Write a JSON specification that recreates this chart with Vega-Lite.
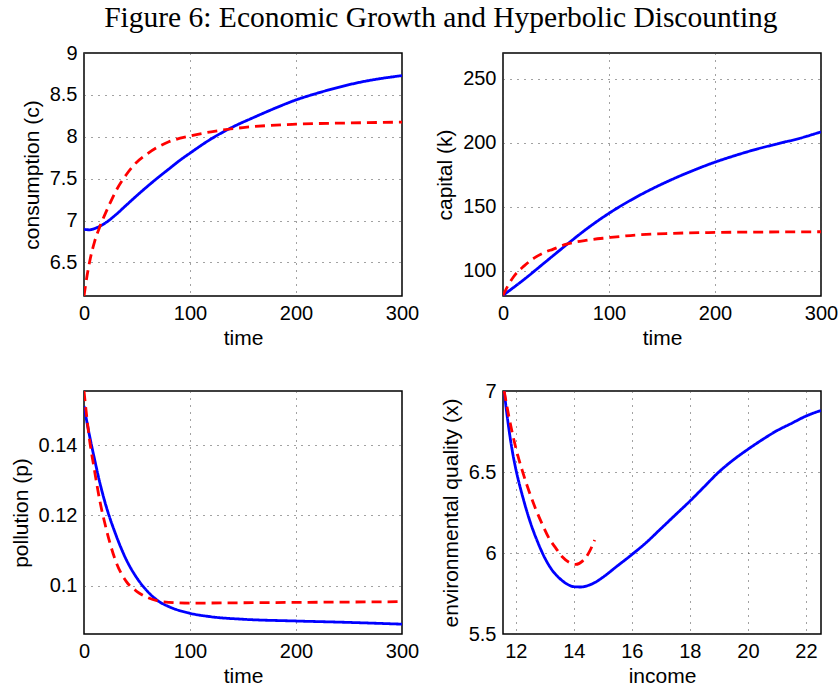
{
  "$schema": "https://vega.github.io/schema/vega-lite/v6.json",
  "background": "white",
  "padding": {"left": 9, "top": 2, "right": 16, "bottom": 4},
  "title": {"text": "Figure 6: Economic Growth and Hyperbolic Discounting", "font": "Liberation Serif", "fontSize": 29.5, "fontWeight": "normal", "color": "#000", "anchor": "middle", "offset": 9, "dx": 17},
  "datasets": {
    "c": [
      {"t": 0, "v": 6.897, "s": "A"}, {"t": 5, "v": 6.89, "s": "A"}, {"t": 10, "v": 6.905, "s": "A"}, {"t": 20, "v": 6.97, "s": "A"}, {"t": 30, "v": 7.07, "s": "A"}, {"t": 40, "v": 7.185, "s": "A"}, {"t": 50, "v": 7.3, "s": "A"}, {"t": 60, "v": 7.41, "s": "A"}, {"t": 70, "v": 7.515, "s": "A"}, {"t": 80, "v": 7.615, "s": "A"}, {"t": 90, "v": 7.715, "s": "A"}, {"t": 100, "v": 7.805, "s": "A"}, {"t": 120, "v": 7.975, "s": "A"}, {"t": 140, "v": 8.115, "s": "A"}, {"t": 160, "v": 8.23, "s": "A"}, {"t": 180, "v": 8.34, "s": "A"}, {"t": 200, "v": 8.44, "s": "A"}, {"t": 220, "v": 8.52, "s": "A"}, {"t": 240, "v": 8.59, "s": "A"}, {"t": 260, "v": 8.65, "s": "A"}, {"t": 280, "v": 8.695, "s": "A"}, {"t": 300, "v": 8.73, "s": "A"},
      {"t": 0, "v": 6.1, "s": "B"}, {"t": 3, "v": 6.35, "s": "B"}, {"t": 6, "v": 6.55, "s": "B"}, {"t": 10, "v": 6.75, "s": "B"}, {"t": 15, "v": 6.93, "s": "B"}, {"t": 20, "v": 7.08, "s": "B"}, {"t": 25, "v": 7.22, "s": "B"}, {"t": 30, "v": 7.35, "s": "B"}, {"t": 40, "v": 7.55, "s": "B"}, {"t": 50, "v": 7.7, "s": "B"}, {"t": 60, "v": 7.8, "s": "B"}, {"t": 70, "v": 7.88, "s": "B"}, {"t": 80, "v": 7.94, "s": "B"}, {"t": 100, "v": 8.01, "s": "B"}, {"t": 120, "v": 8.06, "s": "B"}, {"t": 150, "v": 8.11, "s": "B"}, {"t": 200, "v": 8.15, "s": "B"}, {"t": 250, "v": 8.165, "s": "B"}, {"t": 300, "v": 8.175, "s": "B"}
    ],
    "k": [
      {"t": 0, "v": 81, "s": "A"}, {"t": 20, "v": 93.5, "s": "A"}, {"t": 40, "v": 107, "s": "A"}, {"t": 60, "v": 120.5, "s": "A"}, {"t": 80, "v": 133.5, "s": "A"}, {"t": 100, "v": 145, "s": "A"}, {"t": 120, "v": 155, "s": "A"}, {"t": 140, "v": 163.8, "s": "A"}, {"t": 160, "v": 171.6, "s": "A"}, {"t": 180, "v": 178.6, "s": "A"}, {"t": 200, "v": 184.9, "s": "A"}, {"t": 220, "v": 190.3, "s": "A"}, {"t": 240, "v": 195.2, "s": "A"}, {"t": 260, "v": 199.4, "s": "A"}, {"t": 280, "v": 203.5, "s": "A"}, {"t": 300, "v": 208.5, "s": "A"},
      {"t": 0, "v": 81, "s": "B"}, {"t": 5, "v": 89, "s": "B"}, {"t": 10, "v": 95.5, "s": "B"}, {"t": 20, "v": 104, "s": "B"}, {"t": 30, "v": 110.4, "s": "B"}, {"t": 40, "v": 114.8, "s": "B"}, {"t": 47, "v": 116.9, "s": "B"}, {"t": 59, "v": 120.7, "s": "B"}, {"t": 78, "v": 123.9, "s": "B"}, {"t": 100, "v": 126, "s": "B"}, {"t": 125, "v": 128, "s": "B"}, {"t": 157, "v": 129.3, "s": "B"}, {"t": 204, "v": 130.1, "s": "B"}, {"t": 250, "v": 130.4, "s": "B"}, {"t": 300, "v": 130.6, "s": "B"}
    ],
    "p": [
      {"t": 0, "v": 0.1511, "s": "A"}, {"t": 5, "v": 0.143, "s": "A"}, {"t": 10, "v": 0.1359, "s": "A"}, {"t": 15, "v": 0.1292, "s": "A"}, {"t": 20, "v": 0.1235, "s": "A"}, {"t": 30, "v": 0.1145, "s": "A"}, {"t": 40, "v": 0.1073, "s": "A"}, {"t": 50, "v": 0.1021, "s": "A"}, {"t": 60, "v": 0.0983, "s": "A"}, {"t": 70, "v": 0.0956, "s": "A"}, {"t": 80, "v": 0.094, "s": "A"}, {"t": 100, "v": 0.0921, "s": "A"}, {"t": 120, "v": 0.0911, "s": "A"}, {"t": 150, "v": 0.0904, "s": "A"}, {"t": 200, "v": 0.0899, "s": "A"}, {"t": 250, "v": 0.0895, "s": "A"}, {"t": 300, "v": 0.089, "s": "A"},
      {"t": 0, "v": 0.1554, "s": "B"}, {"t": 5, "v": 0.142, "s": "B"}, {"t": 10, "v": 0.1326, "s": "B"}, {"t": 15, "v": 0.124, "s": "B"}, {"t": 20, "v": 0.1173, "s": "B"}, {"t": 30, "v": 0.1069, "s": "B"}, {"t": 40, "v": 0.1011, "s": "B"}, {"t": 50, "v": 0.0983, "s": "B"}, {"t": 60, "v": 0.0966, "s": "B"}, {"t": 70, "v": 0.0956, "s": "B"}, {"t": 80, "v": 0.0952, "s": "B"}, {"t": 100, "v": 0.095, "s": "B"}, {"t": 150, "v": 0.0951, "s": "B"}, {"t": 200, "v": 0.0952, "s": "B"}, {"t": 300, "v": 0.0954, "s": "B"}
    ],
    "x": [
      {"t": 11.6, "v": 7.0, "s": "A"}, {"t": 11.7, "v": 6.85, "s": "A"}, {"t": 11.8, "v": 6.72, "s": "A"}, {"t": 11.9, "v": 6.61, "s": "A"}, {"t": 12.0, "v": 6.52, "s": "A"}, {"t": 12.25, "v": 6.34, "s": "A"}, {"t": 12.5, "v": 6.19, "s": "A"}, {"t": 12.75, "v": 6.07, "s": "A"}, {"t": 13.0, "v": 5.97, "s": "A"}, {"t": 13.25, "v": 5.895, "s": "A"}, {"t": 13.5, "v": 5.845, "s": "A"}, {"t": 13.75, "v": 5.81, "s": "A"}, {"t": 14.0, "v": 5.792, "s": "A"}, {"t": 14.25, "v": 5.79, "s": "A"}, {"t": 14.5, "v": 5.8, "s": "A"}, {"t": 14.75, "v": 5.82, "s": "A"}, {"t": 15.0, "v": 5.85, "s": "A"}, {"t": 15.5, "v": 5.92, "s": "A"}, {"t": 16.0, "v": 5.99, "s": "A"}, {"t": 16.5, "v": 6.065, "s": "A"}, {"t": 17.0, "v": 6.15, "s": "A"}, {"t": 17.5, "v": 6.235, "s": "A"}, {"t": 18.0, "v": 6.32, "s": "A"}, {"t": 18.5, "v": 6.41, "s": "A"}, {"t": 19.0, "v": 6.5, "s": "A"}, {"t": 19.5, "v": 6.575, "s": "A"}, {"t": 20.0, "v": 6.64, "s": "A"}, {"t": 20.5, "v": 6.7, "s": "A"}, {"t": 21.0, "v": 6.755, "s": "A"}, {"t": 21.5, "v": 6.8, "s": "A"}, {"t": 22.0, "v": 6.845, "s": "A"}, {"t": 22.52, "v": 6.88, "s": "A"},
      {"t": 11.6, "v": 7.0, "s": "B"}, {"t": 11.77, "v": 6.835, "s": "B"}, {"t": 12.0, "v": 6.65, "s": "B"}, {"t": 12.23, "v": 6.505, "s": "B"}, {"t": 12.46, "v": 6.38, "s": "B"}, {"t": 12.69, "v": 6.27, "s": "B"}, {"t": 12.92, "v": 6.175, "s": "B"}, {"t": 13.15, "v": 6.09, "s": "B"}, {"t": 13.38, "v": 6.03, "s": "B"}, {"t": 13.61, "v": 5.975, "s": "B"}, {"t": 13.84, "v": 5.942, "s": "B"}, {"t": 14.07, "v": 5.93, "s": "B"}, {"t": 14.3, "v": 5.95, "s": "B"}, {"t": 14.53, "v": 6.005, "s": "B"}, {"t": 14.72, "v": 6.08, "s": "B"}
    ]
  },
  "columns": 2,
  "spacing": {"row": 95, "column": 101},
  "bounds": "flush",
  "concat": [
    {
      "width": 318, "height": 243,
      "data": {"name": "c"},
      "mark": {"type": "line", "strokeWidth": 2.8, "interpolate": "monotone", "clip": true},
      "encoding": {
        "x": {"field": "t", "type": "quantitative", "scale": {"domain": [0, 300], "nice": false}, "axis": {"values": [0, 100, 200, 300], "title": "time", "format": "d"}},
        "y": {"field": "v", "type": "quantitative", "scale": {"domain": [6.1, 9], "nice": false, "zero": false}, "axis": {"values": [6.5, 7, 7.5, 8, 8.5, 9], "title": "consumption (c)", "format": ".1~f"}},
        "color": {"field": "s", "type": "nominal", "scale": {"domain": ["A", "B"], "range": ["#0000ff", "#ff0000"]}, "legend": null},
        "strokeDash": {"field": "s", "type": "nominal", "scale": {"domain": ["A", "B"], "range": [[1, 0], [10, 6]]}, "legend": null},
        "order": {"field": "t", "type": "quantitative"}
      }
    },
    {
      "width": 318, "height": 243,
      "data": {"name": "k"},
      "mark": {"type": "line", "strokeWidth": 2.8, "interpolate": "monotone", "clip": true},
      "encoding": {
        "x": {"field": "t", "type": "quantitative", "scale": {"domain": [0, 300], "nice": false}, "axis": {"values": [0, 100, 200, 300], "title": "time", "format": "d"}},
        "y": {"field": "v", "type": "quantitative", "scale": {"domain": [80.5, 270], "nice": false, "zero": false}, "axis": {"values": [100, 150, 200, 250], "title": "capital (k)", "format": "d"}},
        "color": {"field": "s", "type": "nominal", "scale": {"domain": ["A", "B"], "range": ["#0000ff", "#ff0000"]}, "legend": null},
        "strokeDash": {"field": "s", "type": "nominal", "scale": {"domain": ["A", "B"], "range": [[1, 0], [10, 6]]}, "legend": null},
        "order": {"field": "t", "type": "quantitative"}
      }
    },
    {
      "width": 318, "height": 243,
      "data": {"name": "p"},
      "mark": {"type": "line", "strokeWidth": 2.8, "interpolate": "monotone", "clip": true},
      "encoding": {
        "x": {"field": "t", "type": "quantitative", "scale": {"domain": [0, 300], "nice": false}, "axis": {"values": [0, 100, 200, 300], "title": "time", "format": "d"}},
        "y": {"field": "v", "type": "quantitative", "scale": {"domain": [0.0862, 0.1554], "nice": false, "zero": false}, "axis": {"values": [0.1, 0.12, 0.14], "title": "pollution (p)", "format": ".2~f"}},
        "color": {"field": "s", "type": "nominal", "scale": {"domain": ["A", "B"], "range": ["#0000ff", "#ff0000"]}, "legend": null},
        "strokeDash": {"field": "s", "type": "nominal", "scale": {"domain": ["A", "B"], "range": [[1, 0], [10, 6]]}, "legend": null},
        "order": {"field": "t", "type": "quantitative"}
      }
    },
    {
      "width": 318, "height": 243,
      "data": {"name": "x"},
      "mark": {"type": "line", "strokeWidth": 2.8, "interpolate": "monotone", "clip": true},
      "encoding": {
        "x": {"field": "t", "type": "quantitative", "scale": {"domain": [11.56, 22.52], "nice": false, "zero": false}, "axis": {"values": [12, 14, 16, 18, 20, 22], "title": "income", "format": "d"}},
        "y": {"field": "v", "type": "quantitative", "scale": {"domain": [5.5, 7], "nice": false, "zero": false}, "axis": {"values": [5.5, 6, 6.5, 7], "title": "environmental quality (x)", "format": ".1~f"}},
        "color": {"field": "s", "type": "nominal", "scale": {"domain": ["A", "B"], "range": ["#0000ff", "#ff0000"]}, "legend": null},
        "strokeDash": {"field": "s", "type": "nominal", "scale": {"domain": ["A", "B"], "range": [[1, 0], [10, 6]]}, "legend": null},
        "order": {"field": "t", "type": "quantitative"}
      }
    }
  ],
  "config": {
    "font": "Liberation Sans",
    "view": {"stroke": "#000", "strokeWidth": 1.5},
    "axis": {
      "labelFont": "Liberation Sans", "labelFontSize": 20, "labelColor": "#000",
      "titleFont": "Liberation Sans", "titleFontSize": 21, "titleFontWeight": "normal", "titleColor": "#000",
      "domain": false, "ticks": false, "labelFlush": false, "labelOverlap": false,
      "gridColor": "#444", "gridDash": [1, 6], "gridWidth": 1, "gridOpacity": 1,
      "labelPadding": 7
    },
    "axisY": {"titlePadding": 7},
    "axisX": {"titlePadding": 4}
  }
}
